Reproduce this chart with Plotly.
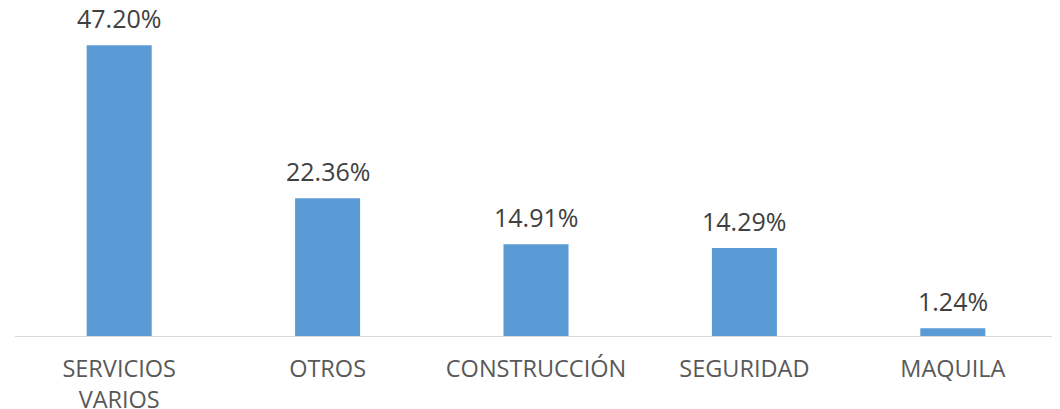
import plotly.graph_objects as go

categorias = ["SERVICIOS<br>VARIOS", "OTROS", "CONSTRUCCIÓN", "SEGURIDAD", "MAQUILA"]
porcentajes = [47.20, 22.36, 14.91, 14.29, 1.24]
etiquetas = ["47.20%", "22.36%", "14.91%", "14.29%", "1.24%"]

fig = go.Figure()

fig.add_trace(go.Bar(
    x=categorias,
    y=porcentajes,
    marker=dict(color='#5B9BD5', line=dict(width=0)),
    hoverinfo='skip',
))

# etiquetas de valor encima de cada barra
for cat, val, txt in zip(categorias, porcentajes, etiquetas):
    fig.add_annotation(
        x=cat, y=val, text=txt,
        showarrow=False, yanchor='bottom', yshift=8,
        font=dict(family='Open Sans', size=25, color='#404040'),
    )

# la página deja 8px de margen en el body, se compensa aquí
fig.update_layout(
    width=1060, height=409,
    margin=dict(l=7, r=11, t=20, b=81),
    paper_bgcolor='white',
    plot_bgcolor='white',
    bargap=0.688,
    showlegend=False,
    font=dict(family='Open Sans'),
)

fig.update_xaxes(
    showline=True, linecolor='#d9d9d9', linewidth=1,
    showgrid=False, ticks='', automargin=False,
    ticklabelstandoff=12,
    tickfont=dict(family='Open Sans', size=23.5, color='#595959'),
)
fig.update_yaxes(
    range=[0, 50], visible=False, showgrid=False, zeroline=False,
    automargin=False,
)

fig.write_html("out.html")
